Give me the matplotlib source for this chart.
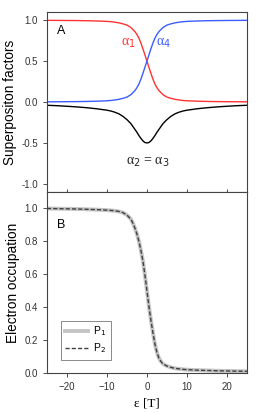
import numpy as np
import matplotlib
matplotlib.use('Agg')
import matplotlib.pyplot as plt

plt.rcParams['font.family'] = ['Liberation Sans', 'DejaVu Sans']

# detuning values (units of T)
eps = [-25, -22.5, -20, -17.5, -15, -12.5, -10, -9, -8, -7, -6, -5, -4, -3.5, -3, -2.5, -2, -1.5, -1, -0.5,
       0, 0.5, 1, 1.5, 2, 2.5, 3, 3.5, 4, 5, 6, 7, 8, 9, 10, 12.5, 15, 17.5, 20, 22.5, 25]

# panel A: superposition factors
alpha1 = [0.998, 0.997, 0.996, 0.995, 0.993, 0.99, 0.985, 0.981, 0.975, 0.967, 0.955, 0.94, 0.91, 0.885,
          0.86, 0.825, 0.78, 0.72, 0.65, 0.575, 0.5, 0.425, 0.35, 0.28, 0.22, 0.175, 0.14, 0.115, 0.09,
          0.06, 0.045, 0.033, 0.025, 0.019, 0.015, 0.01, 0.007, 0.005, 0.004, 0.003, 0.002]
alpha4 = [0.002, 0.003, 0.004, 0.005, 0.007, 0.01, 0.015, 0.019, 0.025, 0.033, 0.045, 0.06, 0.09, 0.115,
          0.14, 0.175, 0.22, 0.28, 0.35, 0.425, 0.5, 0.575, 0.65, 0.72, 0.78, 0.825, 0.86, 0.885, 0.91,
          0.94, 0.955, 0.967, 0.975, 0.981, 0.985, 0.99, 0.993, 0.995, 0.996, 0.997, 0.998]
alpha23 = [-0.04, -0.045, -0.052, -0.06, -0.07, -0.083, -0.10, -0.11, -0.125, -0.145, -0.175, -0.215,
           -0.265, -0.30, -0.335, -0.37, -0.41, -0.445, -0.475, -0.495, -0.5, -0.495, -0.475, -0.445,
           -0.41, -0.37, -0.335, -0.30, -0.265, -0.215, -0.175, -0.145, -0.125, -0.11, -0.10, -0.083,
           -0.07, -0.06, -0.052, -0.045, -0.04]

# panel B: electron occupation
P1 = [1.0, 0.999, 0.998, 0.997, 0.995, 0.993, 0.99, 0.988, 0.986, 0.982, 0.975, 0.96, 0.935, 0.91,
      0.88, 0.845, 0.80, 0.745, 0.68, 0.595, 0.5, 0.405, 0.32, 0.245, 0.175, 0.125, 0.09, 0.07, 0.055,
      0.042, 0.034, 0.028, 0.025, 0.022, 0.02, 0.017, 0.015, 0.013, 0.012, 0.011, 0.01]
P2 = P1

red = '#ff3333'
blue = '#3d5cff'
spine_col = '#444444'
serif = ['Liberation Serif', 'DejaVu Serif']

fig = plt.figure(figsize=(2.58, 4.13), dpi=100)
axA = fig.add_axes([0.182, 0.535, 0.775, 0.436])
axB = fig.add_axes([0.182, 0.097, 0.775, 0.438])

for ax in (axA, axB):
    for s in ax.spines.values():
        s.set_color(spine_col)
        s.set_linewidth(0.8)
    ax.tick_params(labelsize=7, colors='#333333', length=3, width=0.6)
    ax.set_xlim(-25, 25)
    ax.set_xticks([-20, -10, 0, 10, 20])

# top panel
axA.plot(eps, alpha1, color=red, lw=1)
axA.plot(eps, alpha4, color=blue, lw=1)
axA.plot(eps, alpha23, color='black', lw=1)
axA.set_ylim(-1.1, 1.1)
axA.set_yticks([-1.0, -0.5, 0.0, 0.5, 1.0])
axA.set_yticklabels(['-1.0', '-0.5', '0.0', '0.5', '1.0'])
axA.tick_params(axis='x', direction='in', labelbottom=False, length=2)
axA.set_ylabel('Superpositon factors', fontsize=9.8, labelpad=3)
axA.text(0.05, 0.88, 'A', transform=axA.transAxes, fontsize=9)
axA.text(-4.6, 0.72, r'α$_1$', color=red, fontsize=10, ha='center', va='center', family=serif)
axA.text(4.2, 0.72, r'α$_4$', color=blue, fontsize=10, ha='center', va='center', family=serif)
axA.text(0.3, -0.74, r'α$_2$ = α$_3$', color='#222222', fontsize=10, ha='center', va='center',
         family=serif)

# bottom panel
axB.plot(eps, P1, color='#c4c4c4', lw=2.8, label=r'P$_1$')
axB.plot(eps, P2, color='#404040', lw=1, ls=(0, (3, 1.5)), label=r'P$_2$')
axB.set_ylim(0, 1.1)
axB.set_yticks([0.0, 0.2, 0.4, 0.6, 0.8, 1.0])
axB.set_ylabel('Electron occupation', fontsize=9.8, labelpad=3)
axB.set_xlabel('ε [T]', fontsize=9.5, family=serif)
axB.text(0.05, 0.80, 'B', transform=axB.transAxes, fontsize=9)
leg = axB.legend(loc='lower left', bbox_to_anchor=(0.045, 0.045), fontsize=7.5, fancybox=False,
                 handlelength=2.2, borderpad=0.4, labelspacing=0.3, handletextpad=0.5)
leg.get_frame().set_edgecolor('#555555')
leg.get_frame().set_linewidth(0.6)

fig.savefig('out.png', dpi=100)
